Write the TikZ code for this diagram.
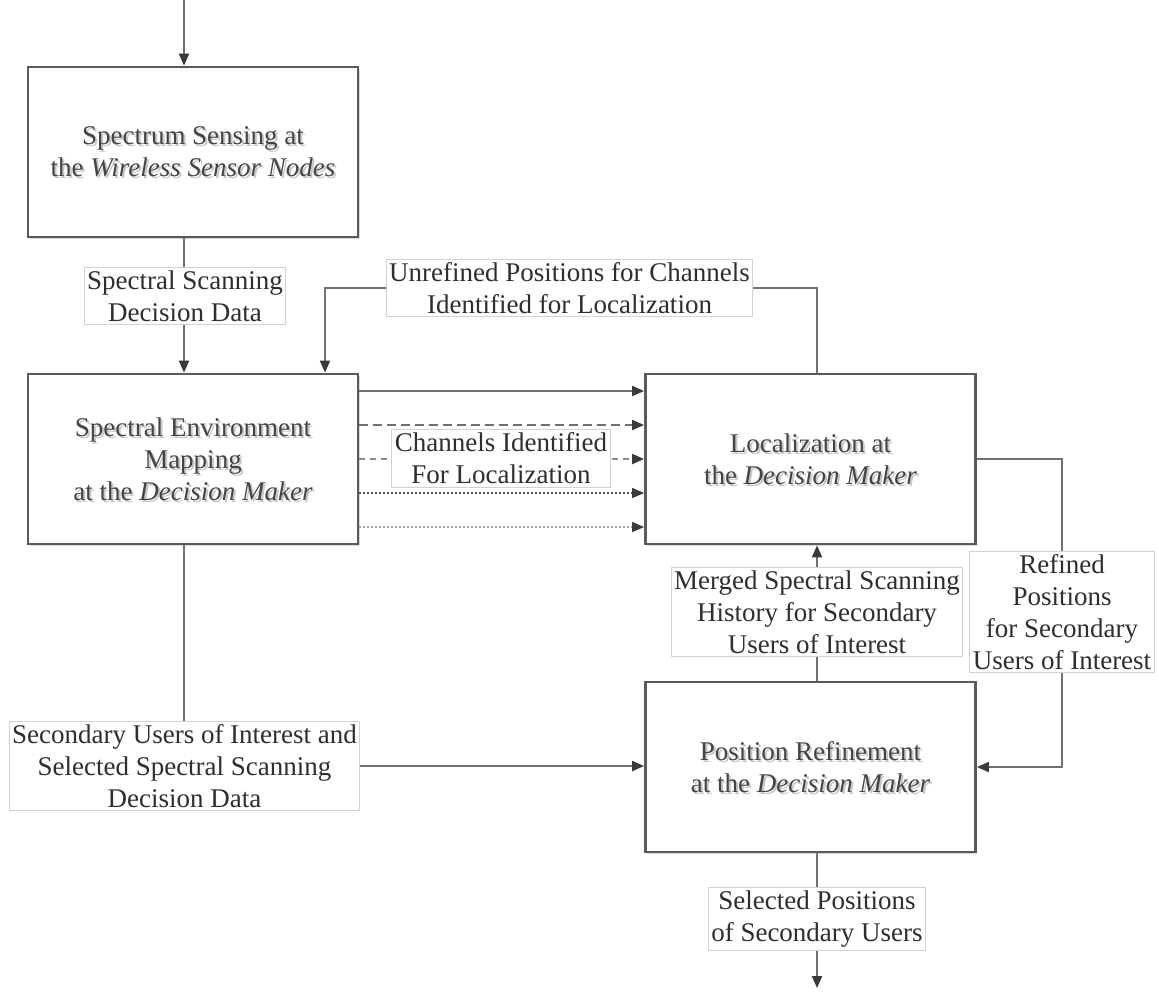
\documentclass[tikz,border=0pt]{standalone}
\usepackage{fontspec}
\setmainfont{Liberation Serif}
\usetikzlibrary{arrows.meta,shadows,calc}

\definecolor{edge}{HTML}{707070}
\definecolor{tipcol}{HTML}{3A3A3A}
\definecolor{boxline}{HTML}{5A5A5A}
\definecolor{labtext}{HTML}{2E2E2E}
\definecolor{boxtext}{HTML}{444444}
\definecolor{labline}{HTML}{D2D2D2}

% a processing stage: framed box whose text carries a soft grey shadow
\newcommand\stagenode[3]{%
  \node[stagebox,
        path picture={\node[draw=none, fill=none, inner sep=0pt, align=center,
                            text=black!22, font=\fontsize{13.5pt}{16pt}\selectfont]
                       at ([shift={(1pt,-1pt)}]path picture bounding box.center) {#3};}]
        (#1) at (#2) {#3};}

\begin{document}
\begin{tikzpicture}[x=0.5pt, y=-0.5pt,
  stagebox/.style={draw=boxline, line width=1.4pt, fill=white,
    minimum width=165pt, minimum height=85pt, inner sep=0pt, align=center,
    text=boxtext, font=\fontsize{13.5pt}{16pt}\selectfont,
    drop shadow={shadow xshift=0.8pt, shadow yshift=-0.8pt, opacity=0.3}},
  flowlabel/.style={draw=labline, line width=0.5pt, fill=white, align=center,
    inner xsep=1.5pt, inner ysep=1.5pt, text=labtext,
    font=\fontsize{13.5pt}{16pt}\selectfont},
  tip/.style={-{Triangle[length=6pt, width=5pt, color=tipcol]}},
  flow/.style={draw=edge, line width=1pt},
  flowarrow/.style={flow, tip},
]
\path[use as bounding box] (0,0) rectangle (1159,993);

% stages
\stagenode{sense}{193,152}{Spectrum Sensing at\\the \textit{Wireless Sensor Nodes}}
\stagenode{map}{193,459}{Spectral Environment\\Mapping\\at the \textit{Decision Maker}}
\stagenode{loc}{810.5,459}{Localization at\\the \textit{Decision Maker}}
\stagenode{refine}{810.5,767}{Position Refinement\\at the \textit{Decision Maker}}

% free ends and bends
\coordinate (in)  at (184,0);
\coordinate (out) at (817,988);
\coordinate (fbL) at (325,288);
\coordinate (fbR) at (817,288);

% input and sensing output
\draw[flowarrow] (in) -- (in |- sense.north);
\node[flowlabel] (scan) at (185,296) {Spectral Scanning\\Decision Data};
\draw[flow] (sense.south -| in) -- (scan.north -| in);
\draw[flowarrow] (scan.south -| in) -- (map.north -| in);

% feedback of unrefined positions
\draw[flowarrow] (fbR |- loc.north) -- (fbR) -- (fbL) -- (fbL |- map.north);
\node[flowlabel] (unref) at (569.5,288) {Unrefined Positions for Channels\\Identified for Localization};

% channel streams from mapping to localization
\draw[flowarrow] ([yshift=34pt]map.east) -- ([yshift=34pt]map.east -| loc.west);
\draw[flowarrow, dash pattern=on 4.5pt off 2.5pt] ([yshift=17pt]map.east) -- ([yshift=17pt]map.east -| loc.west);
\draw[flowarrow, draw=black!45, dash pattern=on 3pt off 2.5pt] (map.east) -- (map.east -| loc.west);
\draw[flowarrow, draw=black!70, line width=0.6pt, dash pattern=on 1pt off 1pt] ([yshift=-17pt]map.east) -- ([yshift=-17pt]map.east -| loc.west);
\draw[flowarrow, draw=black!35, line width=0.6pt, dash pattern=on 1pt off 1pt] ([yshift=-34pt]map.east) -- ([yshift=-34pt]map.east -| loc.west);
\node[flowlabel] (chan) at (501,458.5) {Channels Identified\\For Localization};

% selected users to position refinement
\node[flowlabel] (sel) at (184.5,766) {Secondary Users of Interest and\\Selected Spectral Scanning\\Decision Data};
\draw[flow] (map.south -| in) -- (sel.north -| in);
\draw[flowarrow] (sel.east) -- (sel.east -| refine.west);

% merged history up to localization
\node[flowlabel] (merged) at (817,612) {Merged Spectral Scanning\\History for Secondary\\Users of Interest};
\draw[flow] (refine.north -| merged) -- (merged.south);
\draw[flowarrow] (merged.north) -- (merged.north |- loc.south);

% refined positions back to refinement
\node[flowlabel] (refined) at (1062,612) {Refined\\Positions\\for Secondary\\Users of Interest};
\draw[flow] (loc.east) -| (refined.north);
\draw[flowarrow] (refined.south) |- (refine.east);

% final output
\node[flowlabel] (final) at (817,919) {Selected Positions\\of Secondary Users};
\draw[flow] (refine.south -| final) -- (final.north);
\draw[flowarrow] (final.south) -- (out);
\end{tikzpicture}
\end{document}
